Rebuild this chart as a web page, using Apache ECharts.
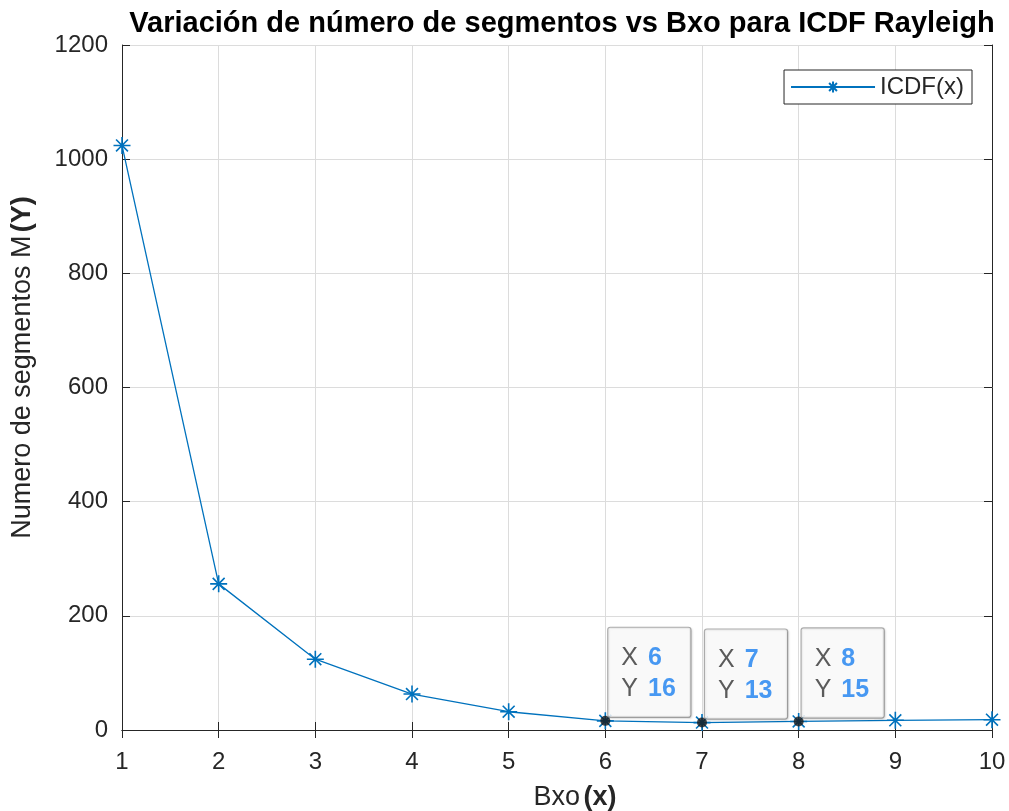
<!DOCTYPE html>
<html>
<head>
<meta charset="utf-8">
<script src="https://cdn.jsdelivr.net/npm/echarts@6/dist/echarts.min.js"></script>
<style>
  html, body { margin: 0; padding: 0; background: #fff; }
  #chart { width: 1009px; height: 811px; }
</style>
</head>
<body>
<div id="chart"></div>
<script>
// Bxo values and the number of segments M
const bxo = [1, 2, 3, 4, 5, 6, 7, 8, 9, 10];
const segments = [1024, 256, 124, 63, 32, 16, 13, 15, 17, 18];
// data tips shown on the figure
const tipX = [6, 7, 8];
const tipY = [16, 13, 15];

const FONT = "'Liberation Sans', Arial, sans-serif";
const BLUE = '#0072BD';
const STAR = 'path://M0,-10L0,10M-10,0L10,0M-7,-7L7,7M-7,7L7,-7';

const chart = echarts.init(document.getElementById('chart'));

const lineData = bxo.map((x, i) => [x, segments[i]]);
const tipData = tipX.map((x, i) => [x, tipY[i]]);

const axisLine = { show: true, lineStyle: { color: '#262626', width: 1 } };
const tickIn = { show: true, inside: true, length: 8, lineStyle: { color: '#262626' } };

chart.setOption({
  animation: false,
  textStyle: { fontFamily: FONT },
  title: {
    text: 'Variación de número de segmentos vs Bxo para ICDF Rayleigh',
    left: 557, top: 4, textAlign: 'center',
    textStyle: { fontFamily: FONT, fontSize: 29, fontWeight: 'bold', color: '#000' }
  },
  grid: { left: 122, right: 17, top: 45, bottom: 81, outerBoundsMode: 'none', containLabel: false },
  legend: {
    right: 37, top: 70,
    data: [{ name: 'ICDF(x)' }],
    itemWidth: 84, itemHeight: 14, itemGap: 4,
    padding: [5, 8, 5, 6],
    borderColor: '#262626', borderWidth: 1,
    backgroundColor: '#fff',
    textStyle: { fontSize: 24, color: '#262626', fontFamily: FONT }
  },
  xAxis: [{
    type: 'value', min: 1, max: 10, interval: 1,
    name: '{n|Bxo} {b|(x)}', nameLocation: 'middle', nameGap: 54,
    nameTextStyle: {
      padding: [0, 0, 0, 36],
      rich: {
        n: { fontSize: 27, color: '#262626', fontFamily: FONT },
        b: { fontSize: 27, color: '#262626', fontWeight: 'bold', fontFamily: FONT }
      }
    },
    axisLine: axisLine, axisTick: tickIn,
    axisLabel: { fontSize: 24, color: '#262626', margin: 20, fontFamily: FONT },
    splitLine: { show: true, lineStyle: { color: '#dcdcdc' } }
  }, {
    type: 'value', position: 'top', min: 1, max: 10, interval: 1,
    axisLine: axisLine, axisTick: tickIn, axisLabel: { show: false }, splitLine: { show: false }
  }],
  yAxis: [{
    type: 'value', min: 0, max: 1200, interval: 200,
    name: '{n|Numero de segmentos M} {b|(Y)}', nameLocation: 'middle', nameGap: 86,
    nameTextStyle: {
      padding: [0, 0, 0, 40],
      rich: {
        n: { fontSize: 27, color: '#262626', fontFamily: FONT },
        b: { fontSize: 27, color: '#262626', fontWeight: 'bold', fontFamily: FONT }
      }
    },
    axisLine: axisLine, axisTick: tickIn,
    axisLabel: { fontSize: 24, color: '#262626', margin: 14, fontFamily: FONT, formatter: v => String(v) },
    splitLine: { show: true, lineStyle: { color: '#dcdcdc' } }
  }, {
    type: 'value', position: 'right', min: 0, max: 1200, interval: 200,
    axisLine: axisLine, axisTick: tickIn, axisLabel: { show: false }, splitLine: { show: false }
  }],
  series: [{
    name: 'ICDF(x)',
    type: 'line',
    data: lineData,
    symbol: STAR,
    symbolSize: 17,
    lineStyle: { color: BLUE, width: 1.3 },
    itemStyle: { color: BLUE, borderColor: BLUE, borderWidth: 1.6 },
    z: 3
  }, {
    name: 'tips',
    type: 'scatter',
    data: tipData,
    symbol: 'circle',
    symbolSize: 10,
    itemStyle: { color: '#1a1a1a' },
    z: 5,
    label: {
      show: true,
      position: [8, 1],
      align: 'left',
      verticalAlign: 'bottom',
      formatter: p => '{k|X}{v|' + p.value[0] + '}\n{k|Y}{v|' + p.value[1] + '}',
      backgroundColor: '#ffffff',
      borderColor: '#9a9a9a',
      borderWidth: 1.2,
      borderRadius: 2,
      shadowColor: 'rgba(0,0,0,0.15)',
      shadowBlur: 2,
      shadowOffsetX: 1,
      shadowOffsetY: 1,
      padding: [15, 6, 12, 13],
      width: 63,
      rich: {
        k: { fontSize: 25, color: '#333', lineHeight: 31, fontFamily: FONT },
        v: { fontSize: 25, color: '#1a7ff0', fontWeight: 'bold', lineHeight: 31, fontFamily: FONT, padding: [0, 0, 0, 10] }
      }
    }
  }]
});
</script>
</body>
</html>
